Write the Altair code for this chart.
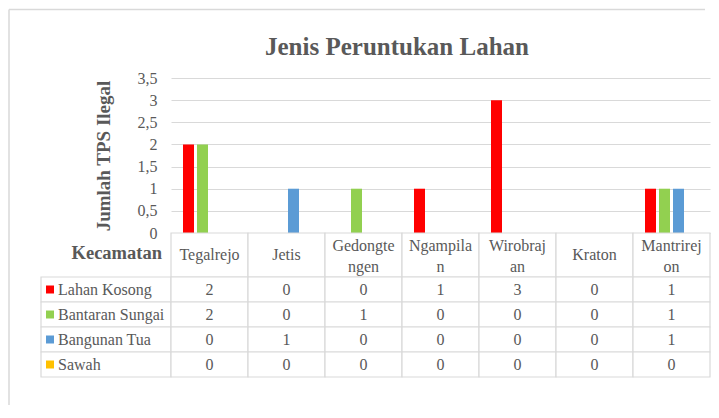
import altair as alt
import pandas as pd

# ---- data ----
kecamatan = ["Tegalrejo", "Jetis", "Gedongtengen", "Ngampilan", "Wirobrajan", "Kraton", "Mantrirejon"]
kecamatan_label = ["Tegalrejo", "Jetis", "Gedongte\nngen", "Ngampila\nn", "Wirobraj\nan", "Kraton", "Mantrirej\non"]
series = ["Lahan Kosong", "Bantaran Sungai", "Bangunan Tua", "Sawah"]
lahan_kosong = [2, 0, 0, 1, 3, 0, 1]
bantaran_sungai = [2, 0, 1, 0, 0, 0, 1]
bangunan_tua = [0, 1, 0, 0, 0, 0, 1]
sawah = [0, 0, 0, 0, 0, 0, 0]
colors = ["#FF0000", "#92D050", "#5B9BD5", "#FFC000"]
y_ticks = [0, 0.5, 1, 1.5, 2, 2.5, 3, 3.5]
chart_title = "Jenis Peruntukan Lahan"
y_title = "Jumlah TPS Ilegal"
x_title = "Kecamatan"

values = [lahan_kosong, bantaran_sungai, bangunan_tua, sawah]
rows = []
for s, vals in zip(series, values):
    for k, v in zip(kecamatan, vals):
        rows.append({"Kecamatan": k, "Seri": s, "Nilai": v})
df = pd.DataFrame(rows)
df_cat = pd.DataFrame({"Kecamatan": kecamatan, "Label": kecamatan_label})
df_ser = pd.DataFrame({"Seri": series})
df_one = pd.DataFrame({"a": [0]})

FONT = "Liberation Serif"
GRAY = "#595959"
LINE = "#d9d9d9"
W_LEFT, W_MAIN = 130, 539
H_BARS, H_HEAD, H_BODY = 155, 44, 100

x_scale = alt.Scale(domain=kecamatan, paddingInner=0, paddingOuter=0)
y_band = alt.Scale(domain=series, paddingInner=0, paddingOuter=0)
color_scale = alt.Scale(domain=series, range=colors)

# ---- chart frame (decoration) ----
frame_left = alt.Chart(df_one).mark_rule(color=LINE, strokeWidth=1.5).encode(
    x=alt.value(-32), y=alt.value(-68.5), y2=alt.value(327))
frame_top = alt.Chart(df_one).mark_rule(color=LINE, strokeWidth=1.5).encode(
    x=alt.value(-32), x2=alt.value(664), y=alt.value(-68.5))
left_top = alt.layer(frame_left, frame_top).properties(width=W_LEFT, height=H_BARS)

# ---- bars ----
bars = alt.Chart(df).mark_bar().encode(
    x=alt.X("Kecamatan:N", scale=x_scale, axis=None),
    xOffset=alt.XOffset("Seri:N", scale=alt.Scale(domain=series, paddingInner=0.214, paddingOuter=0.857)),
    y=alt.Y("Nilai:Q", scale=alt.Scale(domain=[0, 3.5], nice=False),
            axis=alt.Axis(values=y_ticks,
                          labelExpr="replace(toString(datum.value), '.', ',')",
                          grid=True, gridColor=LINE, gridWidth=1,
                          domain=False, ticks=False, tickSize=0, labelPadding=14,
                          labelFont=FONT, labelFontSize=16, labelColor=GRAY,
                          title=y_title, titleFont=FONT, titleFontSize=19,
                          titleFontWeight="bold", titleColor=GRAY, titlePadding=24)),
    color=alt.Color("Seri:N", scale=color_scale, legend=None),
).properties(
    width=W_MAIN, height=H_BARS,
    title=alt.TitleParams(chart_title, font=FONT, fontSize=25, fontWeight="bold",
                          color=GRAY, anchor="middle", frame="group", dx=-43.5, offset=10),
)

# ---- header row ----
left_head = alt.Chart(df_one).mark_text(
    text=x_title, font=FONT, fontSize=18.5, fontWeight="bold", color=GRAY, align="right", dy=-2
).encode(x=alt.value(121)).properties(width=W_LEFT, height=H_HEAD)

head_rect = alt.Chart(df_cat).mark_rect(fill="white", stroke=LINE, strokeWidth=1.2).encode(
    x=alt.X("Kecamatan:N", scale=x_scale, axis=None))
head_text1 = alt.Chart(df_cat).transform_filter(
    "indexof(datum.Label, '\\n') < 0"
).mark_text(font=FONT, fontSize=16, color=GRAY).encode(
    x=alt.X("Kecamatan:N", scale=x_scale, axis=None), text="Label:N")
head_text2 = alt.Chart(df_cat).transform_filter(
    "indexof(datum.Label, '\\n') >= 0"
).mark_text(font=FONT, fontSize=16, color=GRAY, lineBreak="\n", lineHeight=21, dy=-9.5).encode(
    x=alt.X("Kecamatan:N", scale=x_scale, axis=None), text="Label:N")
header = alt.layer(head_rect, head_text1, head_text2).properties(width=W_MAIN, height=H_HEAD)

# ---- table body ----
lb_rect = alt.Chart(df_ser).mark_rect(fill="white", stroke=LINE, strokeWidth=1.2).encode(
    y=alt.Y("Seri:N", scale=y_band, axis=None))
lb_sq = alt.Chart(df_ser).mark_square(size=64, filled=True, opacity=1).encode(
    x=alt.value(9), y=alt.Y("Seri:N", scale=y_band, axis=None),
    color=alt.Color("Seri:N", scale=color_scale, legend=None))
lb_text = alt.Chart(df_ser).mark_text(align="left", font=FONT, fontSize=16, color=GRAY).encode(
    x=alt.value(17), y=alt.Y("Seri:N", scale=y_band, axis=None), text="Seri:N")
left_body = alt.layer(lb_rect, lb_sq, lb_text).properties(width=W_LEFT, height=H_BODY)

b_rect = alt.Chart(df).mark_rect(fill="white", stroke=LINE, strokeWidth=1.2).encode(
    x=alt.X("Kecamatan:N", scale=x_scale, axis=None),
    y=alt.Y("Seri:N", scale=y_band, axis=None))
b_text = alt.Chart(df).mark_text(font=FONT, fontSize=16, color=GRAY).encode(
    x=alt.X("Kecamatan:N", scale=x_scale, axis=None),
    y=alt.Y("Seri:N", scale=y_band, axis=None),
    text="Nilai:Q")
body = alt.layer(b_rect, b_text).properties(width=W_MAIN, height=H_BODY)

chart = alt.concat(
    left_top, bars, left_head, header, left_body, body,
    columns=2, spacing=0, bounds="flush",
).properties(
    padding={"left": 0, "top": 0, "right": 0, "bottom": 0},
    background="white",
).configure_view(stroke=None)

chart.save("out.html", embed_options={"renderer": "svg", "actions": False})
